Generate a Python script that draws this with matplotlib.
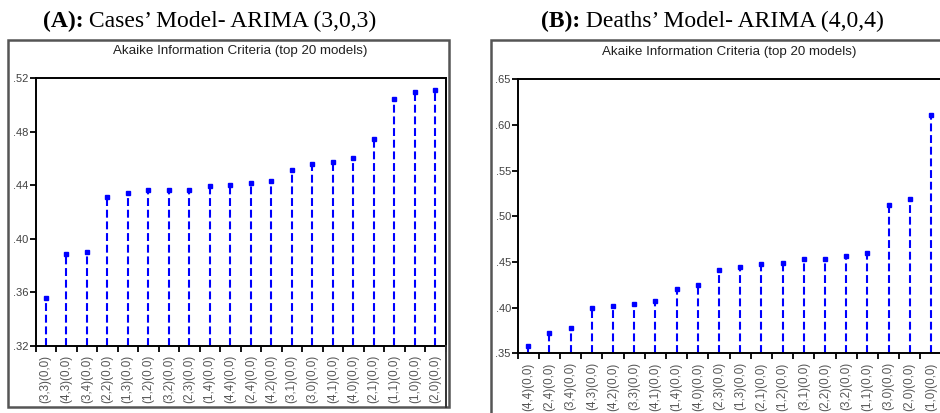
import numpy as np
import matplotlib.pyplot as plt
from matplotlib.patches import Rectangle
from matplotlib.lines import Line2D
from matplotlib.ticker import FuncFormatter

# panel A: cases
models_a = ["(3,3)(0,0)", "(4,3)(0,0)", "(3,4)(0,0)", "(2,2)(0,0)", "(1,3)(0,0)",
            "(1,2)(0,0)", "(3,2)(0,0)", "(2,3)(0,0)", "(1,4)(0,0)", "(4,4)(0,0)",
            "(2,4)(0,0)", "(4,2)(0,0)", "(3,1)(0,0)", "(3,0)(0,0)", "(4,1)(0,0)",
            "(4,0)(0,0)", "(2,1)(0,0)", "(1,1)(0,0)", "(1,0)(0,0)", "(2,0)(0,0)"]
aic_a = [0.3555, 0.3885, 0.3897, 0.4311, 0.4342, 0.4361, 0.4361, 0.4361, 0.4396, 0.4404,
         0.4417, 0.4429, 0.4509, 0.4556, 0.4571, 0.4606, 0.4748, 0.5041, 0.5098, 0.5108]
yticks_a = [0.32, 0.36, 0.40, 0.44, 0.48, 0.52]

# panel B: deaths
models_b = ["(4,4)(0,0)", "(2,4)(0,0)", "(3,4)(0,0)", "(4,3)(0,0)", "(4,2)(0,0)",
            "(3,3)(0,0)", "(4,1)(0,0)", "(1,4)(0,0)", "(4,0)(0,0)", "(2,3)(0,0)",
            "(1,3)(0,0)", "(2,1)(0,0)", "(1,2)(0,0)", "(3,1)(0,0)", "(2,2)(0,0)",
            "(3,2)(0,0)", "(1,1)(0,0)", "(3,0)(0,0)", "(2,0)(0,0)", "(1,0)(0,0)"]
aic_b = [0.3580, 0.3726, 0.3780, 0.3993, 0.4021, 0.4036, 0.4076, 0.4201, 0.4248, 0.4413,
         0.4442, 0.4482, 0.4493, 0.4536, 0.4536, 0.4569, 0.4595, 0.5127, 0.5190, 0.6109]
yticks_b = [0.35, 0.40, 0.45, 0.50, 0.55, 0.60, 0.65]

W, H = 940, 413
fig = plt.figure(figsize=(W / 100, H / 100), dpi=100)

sans = ["Liberation Sans", "DejaVu Sans"]
serif = ["Liberation Serif", "DejaVu Serif"]


def px_box(x0, y0, x1, y1):
    # pixel box (top-left origin) -> figure fraction [l, b, w, h]
    return [x0 / W, 1 - y1 / H, (x1 - x0) / W, (y1 - y0) / H]


def draw_panel(box, models, vals, yticks):
    ax = fig.add_axes(box)
    x = np.arange(1, len(vals) + 1)
    ax.vlines(x, yticks[0], vals, colors="#0000ff", linestyles=(0, (3.8, 1.8)), lw=1.5)
    ax.plot(x, vals, ls="none", marker="s", ms=2.2, color="#0000ff")
    ax.set_xlim(0.5, len(vals) + 0.5)
    ax.set_ylim(yticks[0], yticks[-1])
    ax.set_yticks(yticks)
    ax.yaxis.set_major_formatter(FuncFormatter(lambda v, p: f"{v:.2f}".lstrip("0")))
    ax.set_xticks(x)
    ax.set_xticklabels(models, rotation=90, va="top", fontsize=8.4, family=sans, color="#555555")
    ax.set_xticks(np.arange(0.5, len(vals) + 1, 1), minor=True)
    ax.tick_params(axis="x", which="major", length=0, pad=6.5)
    ax.tick_params(axis="x", which="minor", length=4, width=1.3, direction="out")
    ax.tick_params(axis="y", length=4, width=1.3, direction="out", pad=1,
                   labelsize=8, labelcolor="#404040")
    for lab in ax.get_yticklabels():
        lab.set_family(sans)
    for s in ax.spines.values():
        s.set_linewidth(1.4)
    return ax


ax_a = draw_panel(px_box(35.5, 78, 445.5, 345.7), models_a, aic_a, yticks_a)
ax_b = draw_panel(px_box(517.7, 79.5, 941.5, 353.3), models_b, aic_b, yticks_b)

# outer frames
for (x0, y0, x1, y1) in [(8, 39.7, 449.3, 406.7), (490.7, 39.7, 960, 420)]:
    l, b, w, h = px_box(x0, y0, x1, y1)
    fig.add_artist(Rectangle((l, b), w, h, transform=fig.transFigure, fill=False,
                             ec="#555555", lw=1.8))
fig.add_artist(Line2D([445.5 / W, 445.5 / W], [1 - 345.7 / H, 1 - 406.7 / H],
                      transform=fig.transFigure, color="#333333", lw=1.4))

# subtitles
for ax in (ax_a, ax_b):
    ax.text(0.5, 1 + 27 / 270, "Akaike Information Criteria (top 20 models)", transform=ax.transAxes,
            ha="center", va="center", fontsize=9.6, family=sans, color="#202020")

# titles: bold tag followed by regular text
for x0, tag, rest in [(42.7, "(A):", " Cases\u2019 Model- ARIMA (3,0,3)"),
                      (541, "(B):", " Deaths\u2019 Model- ARIMA (4,0,4)")]:
    t = fig.text(x0 / W, 1 - 27.5 / H, tag, ha="left", va="baseline", fontsize=17,
                 fontweight="bold", family=serif)
    fig.add_artist(plt.Annotation(rest, xy=(1, 0), xycoords=t, va="bottom", ha="left",
                                  fontsize=17, family=serif))

fig.savefig("out.png", dpi=100)
